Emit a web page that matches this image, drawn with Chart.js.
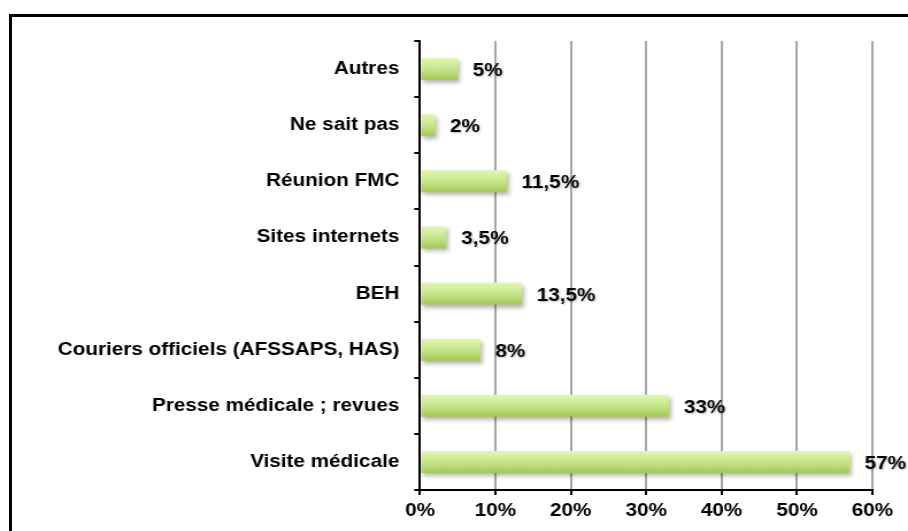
<!DOCTYPE html>
<html>
<head>
<meta charset="utf-8">
<script src="https://cdn.jsdelivr.net/npm/chart.js@4/dist/chart.umd.min.js"></script>
<style>
  html, body { margin: 0; padding: 0; background: #fff; overflow: hidden; }
  #wrap { position: absolute; left: 0; top: 0; width: 790px; height: 531px;
          transform: scaleX(1.1494); transform-origin: 0 0; }
  #frame { position: absolute; left: 9px; top: 14px; width: 1000px; height: 1000px;
           border-top: 3px solid #000; border-left: 3px solid #000; pointer-events: none; }
</style>
</head>
<body>
<div id="wrap"><canvas id="sourcesChart"></canvas></div>
<div id="frame"></div>
<script>
var categories = ["Autres", "Ne sait pas", "Réunion FMC", "Sites internets", "BEH",
                  "Couriers officiels (AFSSAPS, HAS)", "Presse médicale ; revues", "Visite médicale"];
var values = [5, 2, 11.5, 3.5, 13.5, 8, 33, 57];
var valueLabels = ["5%", "2%", "11,5%", "3,5%", "13,5%", "8%", "33%", "57%"];
var tickValues = [0, 10, 20, 30, 40, 50, 60];

Chart.defaults.font.family = '"Liberation Sans", Arial, sans-serif';
Chart.defaults.font.size = 18;
Chart.defaults.font.weight = 'bold';
Chart.defaults.color = '#000';

function barFill(c) {
  var chart = c.chart;
  var y = chart.scales.y;
  if (!y || y.top === undefined || c.dataIndex === undefined) return '#c4e38a';
  var cy = y.getPixelForValue(c.dataIndex);
  var g = chart.ctx.createLinearGradient(0, cy - 11, 0, cy + 11);
  g.addColorStop(0, '#e2f6b4');
  g.addColorStop(0.5, '#c7e68a');
  g.addColorStop(1, '#a2ca57');
  return g;
}

var shadowAndLabels = {
  id: 'shadowAndLabels',
  beforeDatasetsDraw: function (chart) {
    var ctx = chart.ctx;
    ctx.save();
    ctx.shadowColor = 'rgba(0,0,0,0.28)';
    ctx.shadowBlur = 4;
    ctx.shadowOffsetX = 2;
    ctx.shadowOffsetY = 3;
  },
  afterDatasetsDraw: function (chart) {
    var ctx = chart.ctx;
    ctx.restore();
    ctx.save();
    ctx.font = 'bold 18px "Liberation Sans", Arial, sans-serif';
    ctx.fillStyle = '#000';
    ctx.textAlign = 'left';
    ctx.textBaseline = 'middle';
    ctx.shadowColor = 'rgba(0,0,0,0.25)';
    ctx.shadowBlur = 2;
    ctx.shadowOffsetX = 1;
    ctx.shadowOffsetY = 1;
    chart.getDatasetMeta(0).data.forEach(function (bar, i) {
      ctx.fillText(valueLabels[i], bar.x + 13, bar.y + 2);
    });
    ctx.restore();
  }
};

var ctx = document.getElementById('sourcesChart');
var myBarChart = new Chart(ctx, {
  type: 'bar',
  data: {
    labels: categories,
    datasets: [
      {
        data: values,
        backgroundColor: barFill,
        borderWidth: 0,
        categoryPercentage: 1,
        barPercentage: 0.39
      }
    ]
  },
  options: {
    indexAxis: 'y',
    responsive: true,
    maintainAspectRatio: false,
    animation: false,
    layout: { padding: { top: 41, right: 31, bottom: 0, left: 0 } },
    plugins: {
      legend: { display: false },
      tooltip: { enabled: false }
    },
    scales: {
      x: {
        min: 0,
        max: 60,
        afterFit: function (scale) { scale.height = 41; },
        afterBuildTicks: function (scale) {
          scale.ticks = tickValues.map(function (v) { return { value: v }; });
        },
        ticks: {
          padding: 5,
          callback: function (v) { return v + '%'; }
        },
        grid: {
          color: function (c) { return c.index === 0 ? 'rgba(0,0,0,0)' : '#a6a6a6'; },
          lineWidth: 2,
          tickColor: '#000',
          tickWidth: 2,
          tickLength: 5
        },
        border: { color: '#000', width: 2 }
      },
      y: {
        afterFit: function (scale) { scale.width = 365.4; },
        ticks: { padding: 13 },
        grid: {
          drawOnChartArea: false,
          color: '#000',
          lineWidth: 2,
          tickLength: 5
        },
        border: { color: '#000', width: 2 }
      }
    }
  },
  plugins: [shadowAndLabels]
});
</script>
</body>
</html>
